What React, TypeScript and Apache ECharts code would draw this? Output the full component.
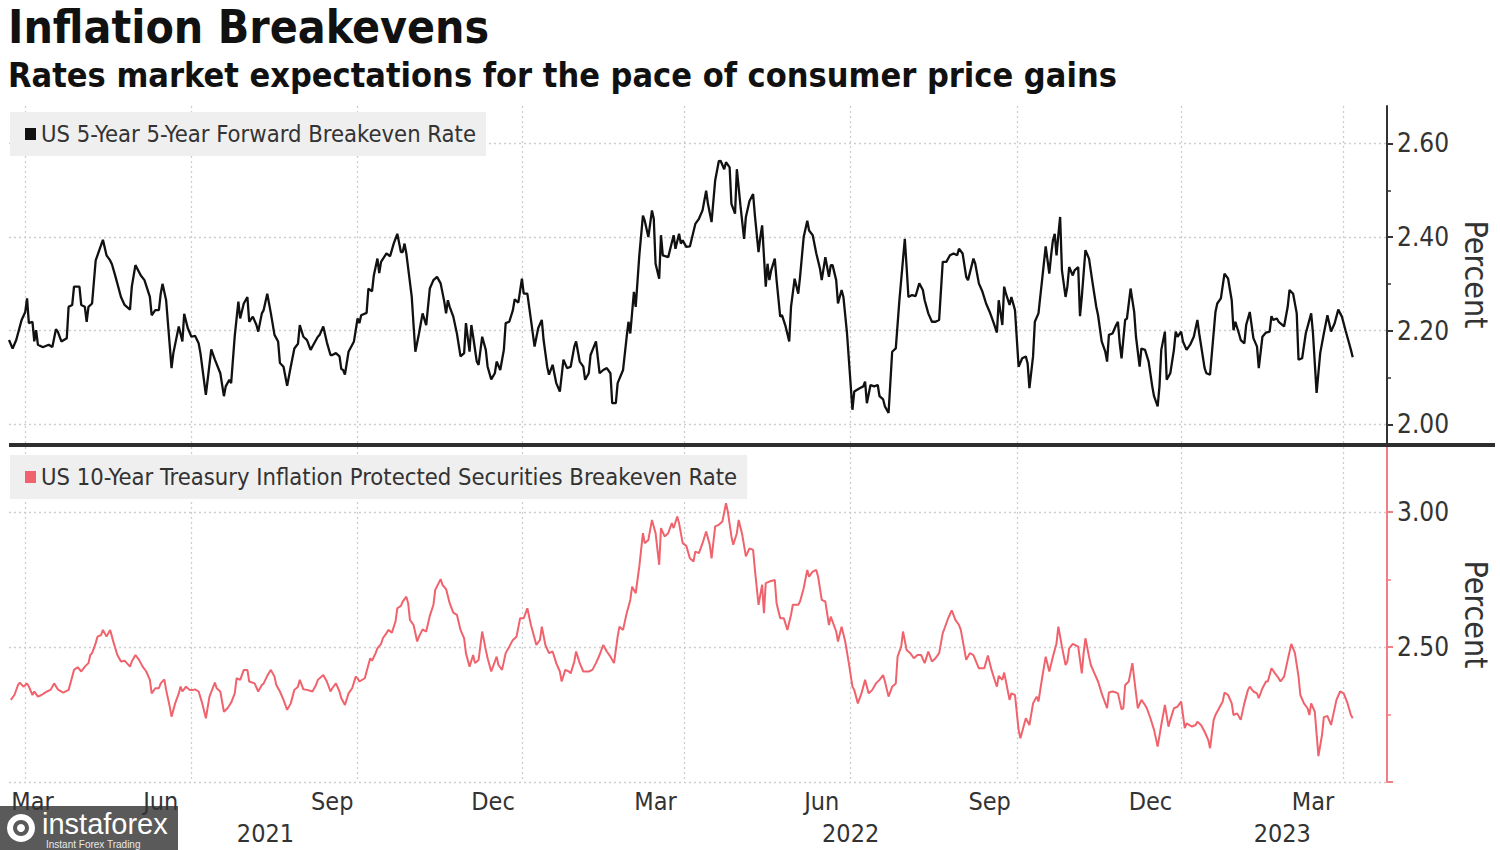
import React, { useEffect, useRef } from "react";
import * as echarts from "echarts";

// ---------- data (day = days since 2021-03-01, value in percent) ----------
const TITLE = "Inflation Breakevens";
const SUBTITLE = "Rates market expectations for the pace of consumer price gains";
const NAME_FWD = "US 5-Year 5-Year Forward Breakeven Rate";
const NAME_TIPS = "US 10-Year Treasury Inflation Protected Securities Breakeven Rate";

const AXIS_START = "2021-02-20";
const AXIS_END = "2023-03-25";

const fwdBreakeven: [number, number][] = [
  [-9,2.18],[-7,2.162],[-5,2.18],[-2,2.223],[0,2.24],[1,2.269],[2,2.216],[4,2.219],[5,2.177],[6,2.201],[7,2.17],[9,2.166],[10,2.165],[13,2.17],[15,2.165],[17,2.203],[18,2.198],[20,2.177],[23,2.184],[24,2.251],[26,2.255],[27,2.294],[30,2.294],[31,2.255],[33,2.251],[34,2.219],[35,2.251],[37,2.258],[39,2.35],[41,2.372],[43,2.394],[45,2.361],[47,2.35],[48,2.342],[50,2.315],[53,2.272],[55,2.255],[58,2.245],[59,2.294],[61,2.34],[64,2.318],[66,2.308],[69,2.272],[70,2.233],[72,2.244],[74,2.244],[75,2.279],[76,2.3],[78,2.265],[81,2.12],[82,2.152],[85,2.209],[87,2.177],[88,2.236],[90,2.205],[92,2.187],[94,2.189],[96,2.173],[97,2.152],[100,2.063],[103,2.16],[105,2.138],[108,2.109],[110,2.06],[111,2.081],[113,2.095],[114,2.088],[116,2.189],[118,2.262],[119,2.226],[121,2.258],[123,2.272],[124,2.219],[126,2.23],[128,2.212],[129,2.198],[131,2.237],[132,2.244],[134,2.279],[136,2.237],[138,2.191],[140,2.177],[141,2.131],[143,2.123],[145,2.082],[147,2.123],[149,2.162],[151,2.172],[152,2.212],[154,2.187],[156,2.18],[158,2.159],[160,2.173],[162,2.187],[163,2.191],[165,2.209],[167,2.175],[169,2.148],[170,2.148],[172,2.152],[174,2.145],[175,2.118],[176,2.116],[177,2.106],[179,2.155],[182,2.177],[184,2.226],[185,2.216],[186,2.233],[189,2.238],[190,2.29],[192,2.284],[193,2.318],[195,2.354],[196,2.323],[197,2.347],[200,2.365],[202,2.359],[204,2.386],[206,2.407],[208,2.368],[209,2.368],[210,2.386],[211,2.365],[214,2.272],[215,2.212],[216,2.155],[218,2.194],[220,2.237],[222,2.212],[224,2.29],[226,2.308],[228,2.315],[230,2.301],[232,2.262],[233,2.237],[234,2.265],[235,2.251],[237,2.23],[239,2.194],[241,2.145],[243,2.152],[244,2.216],[246,2.155],
  [247,2.212],[248,2.187],[250,2.134],[251,2.127],[253,2.187],[255,2.159],[256,2.123],[258,2.096],[260,2.109],[261,2.134],[263,2.116],[265,2.159],[266,2.216],[268,2.219],[270,2.244],[271,2.267],[273,2.26],[275,2.311],[276,2.279],[278,2.279],[280,2.223],[282,2.166],[284,2.205],[286,2.223],[287,2.18],[289,2.123],[290,2.106],[292,2.127],[294,2.088],[296,2.07],[298,2.138],[300,2.12],[302,2.123],[304,2.166],[305,2.177],[307,2.134],[309,2.123],[310,2.095],[312,2.109],[313,2.148],[316,2.177],[318,2.109],[320,2.116],[322,2.12],[324,2.109],[325,2.045],[327,2.045],[328,2.088],[331,2.116],[333,2.187],[334,2.219],[335,2.194],[337,2.283],[338,2.251],[340,2.361],[342,2.446],[343,2.435],[345,2.4],[347,2.457],[348,2.439],[349,2.343],[351,2.311],[352,2.404],[353,2.361],[356,2.357],[359,2.404],[360,2.375],[362,2.407],[363,2.386],[364,2.393],[366,2.379],[368,2.38],[371,2.428],[373,2.439],[375,2.457],[377,2.499],[378,2.471],[380,2.432],[382,2.521],[384,2.562],[385,2.563],[387,2.545],[388,2.56],[390,2.549],[391,2.471],[393,2.45],[394,2.545],[396,2.467],[398,2.396],[399,2.443],[401,2.477],[403,2.492],[404,2.446],[406,2.368],[407,2.4],[408,2.425],[410,2.294],[411,2.343],[412,2.308],[413,2.329],[415,2.354],[416,2.308],[418,2.23],[419,2.233],[421,2.209],[423,2.177],[424,2.251],[426,2.311],[428,2.279],[429,2.315],[431,2.4],[433,2.435],[434,2.414],[436,2.404],[438,2.365],[440,2.333],[441,2.308],[443,2.357],[445,2.315],[446,2.34],[447,2.34],[449,2.308],[450,2.258],[452,2.287],[453,2.272],[455,2.194],[458,2.031],[459,2.07],[462,2.077],[464,2.081],[465,2.091],[466,2.045],[468,2.084],[470,2.081],[472,2.084],[473,2.06],[475,2.053],[476,2.038],[478,2.024],[480,2.155],[482,2.162],[484,2.265],[487,2.396],[488,2.336],[489,2.272],[491,2.276],[493,2.274],[495,2.301],[497,2.287],[498,2.265],[500,2.237],
  [502,2.219],[504,2.219],[506,2.223],[508,2.347],[510,2.347],[512,2.361],[514,2.365],[516,2.361],[517,2.375],[519,2.365],[521,2.315],[522,2.308],[525,2.354],[526,2.343],[528,2.301],[530,2.283],[532,2.258],[534,2.24],[536,2.219],[538,2.196],[539,2.265],[541,2.212],[542,2.294],[543,2.279],[545,2.255],[546,2.272],[548,2.244],[550,2.123],[552,2.141],[554,2.145],[555,2.13],[556,2.077],[558,2.145],[559,2.219],[561,2.237],[563,2.308],[565,2.38],[567,2.322],[568,2.361],[569,2.393],[570,2.407],[571,2.361],[572,2.404],[573,2.443],[574,2.329],[576,2.272],[577,2.294],[578,2.336],[580,2.318],[581,2.329],[583,2.336],[584,2.231],[585,2.272],[587,2.372],[589,2.354],[591,2.301],[593,2.251],[594,2.233],[596,2.177],[598,2.155],[599,2.134],[600,2.191],[602,2.194],[604,2.212],[605,2.219],[606,2.173],[607,2.141],[609,2.223],[610,2.226],[612,2.29],[614,2.24],[615,2.187],[617,2.123],[618,2.162],[620,2.159],[622,2.134],[624,2.081],[625,2.06],[627,2.038],[628,2.081],[629,2.159],[631,2.198],[632,2.095],[634,2.109],[636,2.159],[637,2.198],[638,2.187],[640,2.198],[641,2.177],[643,2.159],[645,2.17],[647,2.187],[649,2.223],[650,2.194],[653,2.12],[654,2.109],[656,2.106],[659,2.24],[660,2.258],[662,2.269],[664,2.322],[666,2.311],[668,2.265],[669,2.201],[670,2.219],[672,2.194],[673,2.18],[675,2.173],[676,2.212],[678,2.24],[680,2.184],[682,2.166],[683,2.12],[685,2.187],[687,2.196],[689,2.198],[690,2.231],[691,2.223],[693,2.226],[694,2.219],[697,2.209],[699,2.251],[700,2.287],[702,2.279],[704,2.237],[705,2.138],[707,2.141],[709,2.194],[712,2.237],[713,2.194],[715,2.067],[717,2.152],[719,2.194],[721,2.233],[723,2.198],[725,2.216],[727,2.245],[729,2.23],[731,2.201],[733,2.173],[734,2.159],[735,2.143],
];

const tipsBreakeven: [number, number][] = [
  [-8,2.304],[-6,2.322],[-4,2.359],[-3,2.368],[-1,2.353],[1,2.365],[2,2.353],[4,2.322],[5,2.335],[7,2.316],[9,2.322],[11,2.331],[12,2.335],[14,2.341],[16,2.365],[18,2.343],[21,2.331],[24,2.341],[25,2.365],[27,2.415],[29,2.425],[31,2.409],[33,2.427],[35,2.44],[36,2.47],[37,2.477],[39,2.514],[40,2.538],[42,2.544],[43,2.563],[45,2.538],[47,2.563],[49,2.514],[51,2.47],[53,2.446],[55,2.449],[58,2.427],[59,2.446],[61,2.47],[63,2.452],[65,2.427],[67,2.409],[69,2.378],[70,2.328],[72,2.347],[74,2.347],[75,2.365],[77,2.38],[78,2.341],[80,2.279],[81,2.242],[83,2.291],[85,2.328],[86,2.353],[87,2.335],[89,2.353],[91,2.341],[93,2.341],[94,2.343],[96,2.335],[98,2.291],[100,2.236],[102,2.316],[105,2.368],[106,2.347],[108,2.335],[110,2.26],[112,2.273],[114,2.294],[116,2.328],[117,2.384],[119,2.378],[121,2.415],[123,2.415],[124,2.372],[127,2.365],[129,2.335],[131,2.359],[132,2.365],[134,2.393],[136,2.415],[138,2.39],[139,2.359],[141,2.335],[143,2.304],[145,2.267],[147,2.291],[149,2.341],[151,2.353],[152,2.378],[154,2.343],[156,2.341],[159,2.335],[161,2.359],[162,2.378],[165,2.396],[167,2.372],[169,2.335],[170,2.347],[172,2.365],[174,2.335],[175,2.31],[177,2.285],[179,2.328],[181,2.347],[183,2.39],[184,2.384],[185,2.372],[188,2.384],[189,2.409],[191,2.458],[192,2.449],[194,2.477],[195,2.495],[197,2.511],[198,2.532],[200,2.551],[201,2.563],[203,2.553],[205,2.594],[206,2.643],[208,2.652],[209,2.668],[211,2.686],[212,2.662],[213,2.6],[215,2.581],[217,2.52],[218,2.538],[220,2.565],[222,2.557],[224,2.615],[226,2.656],[227,2.711],[230,2.751],[231,2.73],[233,2.714],[235,2.662],[237,2.627],[239,2.619],[241,2.563],[243,2.532],[244,2.477],[246,2.427],
  [248,2.47],[249,2.44],[251,2.452],[253,2.557],[255,2.489],[256,2.458],[258,2.409],[261,2.464],[262,2.433],[264,2.415],[266,2.477],[268,2.501],[270,2.526],[272,2.538],[274,2.606],[276,2.606],[278,2.643],[280,2.581],[283,2.507],[285,2.526],[286,2.575],[288,2.507],[290,2.477],[292,2.483],[294,2.44],[296,2.409],[297,2.372],[299,2.415],[301,2.409],[302,2.402],[304,2.446],[305,2.483],[307,2.44],[309,2.409],[312,2.409],[314,2.415],[316,2.44],[318,2.47],[320,2.507],[322,2.483],[324,2.464],[326,2.44],[328,2.538],[329,2.575],[331,2.563],[333,2.625],[335,2.674],[336,2.723],[338,2.699],[340,2.798],[342,2.921],[343,2.884],[345,2.896],[347,2.97],[349,2.921],[351,2.804],[352,2.94],[354,2.909],[356,2.921],[358,2.958],[359,2.94],[361,2.983],[362,2.958],[364,2.884],[366,2.874],[368,2.828],[370,2.816],[371,2.853],[373,2.847],[375,2.884],[377,2.927],[379,2.878],[380,2.828],[382,2.946],[384,2.952],[386,2.964],[388,3.032],[389,3.001],[391,2.909],[392,2.878],[394,2.921],[395,2.97],[397,2.915],[399,2.835],[401,2.865],[403,2.859],[404,2.785],[406,2.656],[408,2.73],[409,2.625],[410,2.736],[412,2.742],[415,2.748],[416,2.662],[418,2.606],[420,2.606],[422,2.563],[424,2.619],[425,2.656],[428,2.656],[429,2.668],[431,2.717],[433,2.785],[434,2.76],[436,2.779],[438,2.785],[439,2.76],[441,2.674],[443,2.668],[445,2.581],[446,2.612],[449,2.557],[450,2.52],[452,2.575],[454,2.52],[456,2.44],[458,2.353],[459,2.341],[461,2.291],[463,2.328],[465,2.378],[467,2.328],[469,2.341],[471,2.365],[473,2.378],[475,2.396],[476,2.372],[478,2.316],[480,2.353],[482,2.365],[483,2.464],[485,2.501],[486,2.557],[488,2.489],[490,2.477],[492,2.458],[494,2.47],[496,2.47],[498,2.44],[500,2.483],
  [502,2.446],[504,2.458],[506,2.477],[508,2.551],[509,2.569],[511,2.606],[513,2.635],[515,2.6],[517,2.581],[518,2.563],[520,2.489],[521,2.452],[523,2.477],[525,2.47],[528,2.421],[531,2.421],[533,2.468],[535,2.415],[537,2.372],[538,2.353],[539,2.393],[541,2.378],[542,2.405],[543,2.372],[545,2.304],[546,2.328],[548,2.322],[550,2.193],[551,2.162],[554,2.236],[556,2.211],[558,2.291],[560,2.316],[561,2.298],[563,2.384],[565,2.464],[567,2.409],[569,2.464],[571,2.514],[572,2.575],[574,2.501],[576,2.433],[577,2.446],[578,2.495],[580,2.511],[583,2.501],[585,2.402],[586,2.477],[587,2.532],[589,2.464],[590,2.433],[592,2.402],[594,2.372],[596,2.328],[599,2.273],[600,2.331],[602,2.335],[604,2.331],[605,2.328],[607,2.269],[608,2.273],[609,2.359],[611,2.372],[613,2.44],[614,2.384],[616,2.273],[618,2.304],[620,2.285],[621,2.273],[623,2.236],[625,2.193],[627,2.131],[629,2.211],[631,2.285],[633,2.205],[634,2.23],[636,2.273],[638,2.279],[640,2.298],[642,2.199],[643,2.217],[646,2.205],[648,2.211],[649,2.223],[651,2.211],[653,2.186],[655,2.156],[656,2.125],[658,2.23],[659,2.248],[661,2.273],[663,2.298],[664,2.331],[666,2.322],[668,2.291],[669,2.248],[671,2.254],[673,2.23],[675,2.291],[677,2.341],[678,2.353],[680,2.335],[682,2.328],[683,2.31],[685,2.347],[687,2.372],[688,2.372],[690,2.421],[692,2.402],[694,2.384],[695,2.372],[697,2.39],[699,2.452],[701,2.511],[703,2.477],[705,2.39],[706,2.322],[708,2.291],[710,2.273],[711,2.248],[712,2.291],[714,2.26],[716,2.096],[718,2.174],[719,2.24],[721,2.244],[723,2.211],[724,2.242],[726,2.304],[728,2.335],[730,2.328],[732,2.294],[734,2.248],[735,2.236],
];

// x-axis gridlines (quarter starts), month labels and year labels (anchor date -> text)
const gridDates = ["2021-03-01","2021-06-01","2021-09-01","2021-12-01","2022-03-01","2022-06-01","2022-09-01","2022-12-01","2023-03-01"];
const monthLabels: [string, string][] = [
  ["2021-03-05","Mar"],["2021-05-15","Jun"],["2021-08-18","Sep"],["2021-11-15","Dec"],
  ["2022-02-13","Mar"],["2022-05-16","Jun"],["2022-08-17","Sep"],["2022-11-14","Dec"],["2023-02-12","Mar"],
];
const yearLabels: [string, string][] = [["2021-07-12","2021"],["2022-06-01","2022"],["2023-01-26","2023"]];

const fwdTicks = [2.0, 2.2, 2.4, 2.6];
const fwdMinorTicks = [2.1, 2.3, 2.5];
const tipsTicks = [2.0, 2.5, 3.0];
const tipsLabelTicks = [2.5, 3.0];
const tipsMinorTicks = [2.25, 2.75];

// ---------- helpers ----------
const DAY = 86400000;
const iso = (t: number) => new Date(t).toISOString().slice(0, 10);
const T0 = Date.UTC(2021, 2, 1);
const dayToDate = (d: number) => iso(T0 + d * DAY);

const categories: string[] = [];
for (let t = Date.parse(AXIS_START + "T00:00:00Z"); t <= Date.parse(AXIS_END + "T00:00:00Z"); t += DAY) {
  categories.push(iso(t));
}

const FONT = "'DejaVu Sans Condensed', 'DejaVu Sans', sans-serif";
const TEXT = "#333333";
const RED = "#f0626c";
const RED_AXIS = "#f27d84";

export default function App() {
  const ref = useRef<HTMLDivElement>(null);

  useEffect(() => {
    document.body.style.margin = "0";
    if (!ref.current) return;
    const chart = echarts.init(ref.current, undefined, { renderer: "svg" });

    const gridSet = new Set(gridDates);
    const monthMap = new Map(monthLabels);
    const yearMap = new Map(yearLabels);
    const gridLine = { color: "#cdcdcd", type: [2, 3] as any, width: 1.3 };

    const xBase = (gridIndex: number) => ({
      type: "category" as const,
      gridIndex,
      data: categories,
      boundaryGap: false,
      axisLine: { show: false },
      axisTick: { show: false },
      axisLabel: { show: false },
      splitLine: {
        show: true,
        interval: (_i: number, v: string) => gridSet.has(v),
        lineStyle: gridLine,
      },
    });

    const legendBase = {
      left: 10, icon: "rect", itemWidth: 11, itemHeight: 12,
      backgroundColor: "#efefef", padding: [10, 10, 10, 15], selectedMode: false,
      textStyle: { fontSize: 23.6, color: TEXT, fontFamily: FONT },
    };

    const option: any = {
      animation: false,
      backgroundColor: "#ffffff",
      textStyle: { fontFamily: FONT },
      title: {
        text: TITLE,
        subtext: SUBTITLE,
        left: 8,
        top: 2,
        padding: 0,
        itemGap: 4,
        textStyle: { fontSize: 46, fontWeight: "bold", color: "#111", fontFamily: FONT, lineHeight: 50 },
        subtextStyle: { fontSize: 34, fontWeight: "bold", color: "#111", fontFamily: FONT, lineHeight: 38 },
      },
      legend: [
        { ...legendBase, data: [NAME_FWD], top: 112 },
        { ...legendBase, data: [NAME_TIPS], top: 455 },
      ],
      grid: [
        { left: 9, right: 111, top: 106, height: 337 },
        { left: 9, right: 111, top: 447, bottom: 68 },
      ],
      xAxis: [
        xBase(0),
        {
          ...xBase(1),
          axisLabel: {
            show: true,
            interval: (_i: number, v: string) => monthMap.has(v),
            formatter: (v: string) => monthMap.get(v) ?? "",
            fontSize: 25, color: TEXT, fontFamily: FONT, margin: 7,
          },
        },
        {
          ...xBase(1),
          position: "bottom",
          offset: 32,
          splitLine: { show: false },
          axisLabel: {
            show: true,
            interval: (_i: number, v: string) => yearMap.has(v),
            formatter: (v: string) => yearMap.get(v) ?? "",
            fontSize: 25, color: TEXT, fontFamily: FONT, margin: 7,
          },
        },
      ],
      yAxis: [
        {
          type: "value", gridIndex: 0, position: "right", min: 1.96, max: 2.68,
          axisLine: { show: true, lineStyle: { color: "#333", width: 2 } },
          axisTick: { show: true, customValues: fwdTicks, length: 6, lineStyle: { color: "#333", width: 2 } },
          axisLabel: { customValues: fwdTicks, formatter: (v: number) => v.toFixed(2), fontSize: 26, color: TEXT, fontFamily: FONT, margin: 10 },
          splitLine: { show: true, lineStyle: gridLine },
          name: "Percent", nameLocation: "middle", nameRotate: -90, nameGap: 70,
          nameTextStyle: { fontSize: 32, color: TEXT, fontFamily: FONT },
        },
        {
          type: "value", gridIndex: 0, position: "right", min: 1.96, max: 2.68,
          axisLine: { show: false },
          axisTick: { show: true, customValues: fwdMinorTicks, length: 4, lineStyle: { color: "#333", width: 1.5 } },
          axisLabel: { show: false },
          splitLine: { show: false },
        },
        {
          type: "value", gridIndex: 1, position: "right", min: 2.0, max: 3.24,
          axisLine: { show: true, lineStyle: { color: RED_AXIS, width: 2 } },
          axisTick: { show: true, customValues: tipsTicks, length: 6, lineStyle: { color: RED_AXIS, width: 2 } },
          axisLabel: { customValues: tipsLabelTicks, formatter: (v: number) => v.toFixed(2), fontSize: 26, color: TEXT, fontFamily: FONT, margin: 10 },
          splitLine: { show: true, lineStyle: gridLine },
          name: "Percent", nameLocation: "middle", nameRotate: -90, nameGap: 70,
          nameTextStyle: { fontSize: 32, color: TEXT, fontFamily: FONT },
        },
        {
          type: "value", gridIndex: 1, position: "right", min: 2.0, max: 3.24,
          axisLine: { show: false },
          axisTick: { show: true, customValues: tipsMinorTicks, length: 4, lineStyle: { color: RED_AXIS, width: 1.5 } },
          axisLabel: { show: false },
          splitLine: { show: false },
        },
      ],
      series: [
        {
          type: "line", name: NAME_FWD, xAxisIndex: 0, yAxisIndex: 0,
          data: fwdBreakeven.map(([d, v]) => [dayToDate(d), v]),
          symbol: "none", showSymbol: false,
          lineStyle: { color: "#111", width: 2.3 }, itemStyle: { color: "#111" }, z: 3,
        },
        {
          type: "line", name: NAME_TIPS, xAxisIndex: 1, yAxisIndex: 2,
          data: tipsBreakeven.map(([d, v]) => [dayToDate(d), v]),
          symbol: "none", showSymbol: false,
          lineStyle: { color: RED, width: 2 }, itemStyle: { color: RED }, z: 3,
        },
      ],
      graphic: [
        { type: "rect", shape: { x: 9, y: 443, width: 1486, height: 4 }, style: { fill: "#2e2e2e" }, z: 10 },
        {
          type: "group", x: 0, y: 806, z: 20,
          children: [
            { type: "rect", shape: { x: 0, y: 0, width: 178, height: 44 }, style: { fill: "rgba(72,72,72,0.9)" } },
            { type: "ring", shape: { cx: 21, cy: 22, r: 14, r0: 8 }, style: { fill: "#ffffff" } },
            { type: "circle", shape: { cx: 21, cy: 22, r: 4 }, style: { fill: "#ffffff" } },
            { type: "text", style: { x: 42, y: 3, text: "instaforex", fill: "#ffffff", font: "29px 'Liberation Sans Narrow', 'Liberation Sans', sans-serif" } },
            { type: "text", style: { x: 46, y: 33, text: "Instant Forex Trading", fill: "#e8e8e8", font: "10px 'Liberation Sans', sans-serif" } },
          ],
        },
      ],
    };

    chart.setOption(option);
    return () => chart.dispose();
  }, []);

  return <div ref={ref} style={{ width: 1500, height: 850 }} />;
}
